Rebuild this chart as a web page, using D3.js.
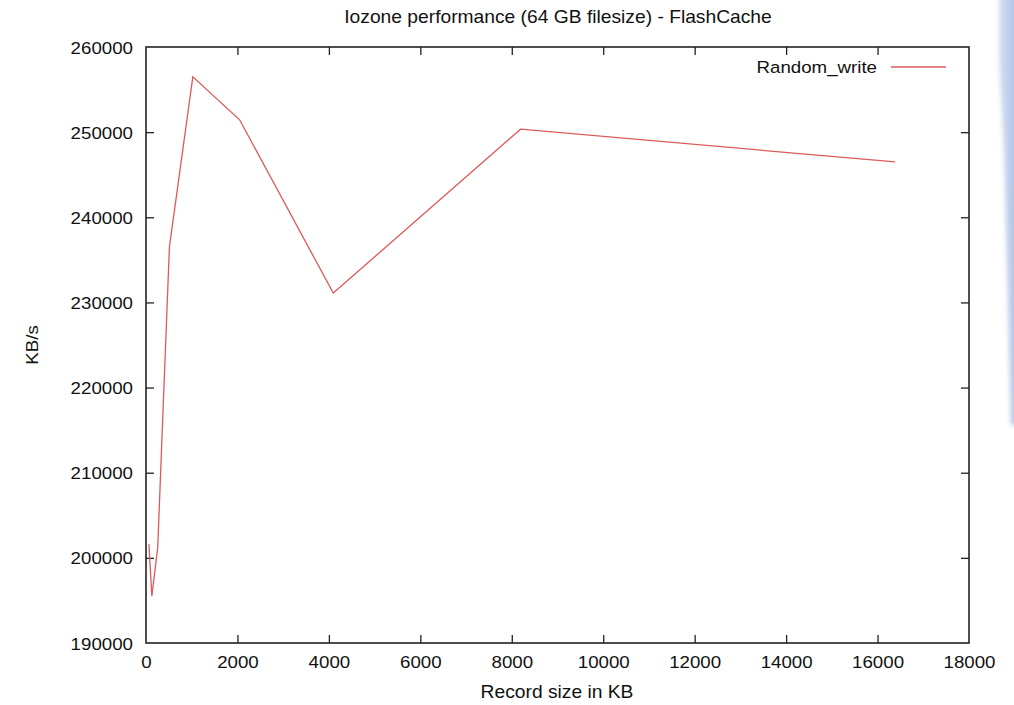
<!DOCTYPE html>
<html>
<head>
<meta charset="utf-8">
<script src="https://cdn.jsdelivr.net/npm/d3@7"></script>
<style>
  html, body { margin: 0; padding: 0; background: #fff; }
  svg { display: block; }
  text { font-family: "Liberation Sans", Arial, Helvetica, sans-serif; fill: #111; }
</style>
</head>
<body>
<svg id="chart" width="1014" height="705"></svg>
<script>
// Record sizes (KB) tested by iozone and measured random write throughput (KB/s)
const recordSizes = [64, 128, 256, 512, 1024, 2048, 4096, 8192, 16384];
const randomWrite = [201600, 195500, 201200, 236500, 256500, 251450, 231100, 250350, 246500];
const seriesName = "Random_write";

const xTicks = [0, 2000, 4000, 6000, 8000, 10000, 12000, 14000, 16000, 18000];
const yTicks = [190000, 200000, 210000, 220000, 230000, 240000, 250000, 260000];

const titleText = "Iozone performance (64 GB filesize) - FlashCache";
const xLabelText = "Record size in KB";
const yLabelText = "KB/s";

const W = 1014, H = 705;
const margin = { left: 146, right: W - 969, top: 47, bottom: H - 643 };
const svg = d3.select("#chart");

// soft bluish backdrop strip along the right edge
const defs = svg.append("defs");
const blur = defs.append("filter").attr("id", "soft").attr("x", "-50%").attr("y", "-10%").attr("width", "200%").attr("height", "120%");
blur.append("feGaussianBlur").attr("stdDeviation", 2.5);
const grad = defs.append("linearGradient").attr("id", "edgeGrad").attr("x1", 0).attr("x2", 1).attr("y1", 0).attr("y2", 0);
grad.append("stop").attr("offset", "0%").attr("stop-color", "#d3ddf0");
grad.append("stop").attr("offset", "100%").attr("stop-color", "#a9bde3");
svg.append("path")
  .attr("d", "M999,-10 L1020,-10 L1020,425 L1011,425 L1008,300 L1004,150 L999,60 Z")
  .attr("fill", "url(#edgeGrad)")
  .attr("filter", "url(#soft)");

const x = d3.scaleLinear().domain([0, 18000]).range([margin.left, W - margin.right]);
const y = d3.scaleLinear().domain([190000, 260000]).range([H - margin.bottom, margin.top]);

const stretch = 1.1;   // glyphs are drawn slightly wide
function wide(sel, ax, ay) {
  sel.attr("transform", `translate(${ax},${ay}) scale(${stretch},1)`).attr("x", 0).attr("y", 0);
}

const tickLen = 8;
const axisColor = "#222";

// bottom axis with inward ticks
const gx = svg.append("g").attr("transform", `translate(0,${H - margin.bottom})`)
  .call(d3.axisBottom(x).tickValues(xTicks).tickSize(-tickLen).tickSizeOuter(0).tickPadding(0).tickFormat(d3.format("d")));
gx.select(".domain").remove();
gx.selectAll(".tick line").attr("stroke", axisColor).attr("stroke-width", 1.3);
gx.selectAll(".tick text").each(function(d) {
  d3.select(this).attr("dy", null).attr("text-anchor", "middle").style("font-size", "17px")
    .call(wide, 0, 25);
});
gx.selectAll(".tick").filter(d => d === 0 || d === 18000).select("line").remove();

// top mirrored ticks
const gxt = svg.append("g").attr("transform", `translate(0,${margin.top})`)
  .call(d3.axisTop(x).tickValues(xTicks).tickSize(-tickLen).tickSizeOuter(0).tickFormat(""));
gxt.select(".domain").remove();
gxt.selectAll(".tick line").attr("stroke", axisColor).attr("stroke-width", 1.3);
gxt.selectAll(".tick").filter(d => d === 0 || d === 18000).select("line").remove();

// left axis with inward ticks
const gy = svg.append("g").attr("transform", `translate(${margin.left},0)`)
  .call(d3.axisLeft(y).tickValues(yTicks).tickSize(-tickLen).tickSizeOuter(0).tickPadding(0).tickFormat(d3.format("d")));
gy.select(".domain").remove();
gy.selectAll(".tick line").attr("stroke", axisColor).attr("stroke-width", 1.3);
gy.selectAll(".tick text").each(function() {
  d3.select(this).attr("dy", null).attr("text-anchor", "end").style("font-size", "17px")
    .call(wide, -13, 6);
});
gy.selectAll(".tick").filter(d => d === 190000 || d === 260000).select("line").remove();

// right mirrored ticks
const gyr = svg.append("g").attr("transform", `translate(${W - margin.right},0)`)
  .call(d3.axisRight(y).tickValues(yTicks).tickSize(-tickLen).tickSizeOuter(0).tickFormat(""));
gyr.select(".domain").remove();
gyr.selectAll(".tick line").attr("stroke", axisColor).attr("stroke-width", 1.3);
gyr.selectAll(".tick").filter(d => d === 190000 || d === 260000).select("line").remove();

// plot frame
svg.append("rect")
  .attr("x", x(0)).attr("y", y(260000))
  .attr("width", x(18000) - x(0)).attr("height", y(190000) - y(260000))
  .attr("fill", "none").attr("stroke", axisColor).attr("stroke-width", 1.6);

// data line
const line = d3.line().x((d, i) => x(recordSizes[i])).y(d => y(d));
svg.append("path")
  .datum(randomWrite)
  .attr("d", line)
  .attr("fill", "none")
  .attr("stroke", "#de5a5a")
  .attr("stroke-width", 1.3)
  .attr("stroke-linejoin", "miter");

// legend
const legY = 67;
svg.append("text").attr("text-anchor", "end").style("font-size", "17px")
  .text(seriesName).call(wide, 877, legY + 6);
svg.append("line")
  .attr("x1", 891).attr("x2", 946).attr("y1", legY).attr("y2", legY)
  .attr("stroke", "#de5a5a").attr("stroke-width", 1.3);

// title and axis labels
svg.append("text").attr("text-anchor", "middle").style("font-size", "17.5px")
  .text(titleText).call(wide, 558, 23);
svg.append("text").attr("text-anchor", "middle").style("font-size", "17.5px")
  .text(xLabelText).call(wide, 557, 698);
svg.append("text").attr("text-anchor", "middle").style("font-size", "17px")
  .attr("transform", "translate(38,345) rotate(-90) scale(1.1,1)")
  .text(yLabelText);
</script>
</body>
</html>
